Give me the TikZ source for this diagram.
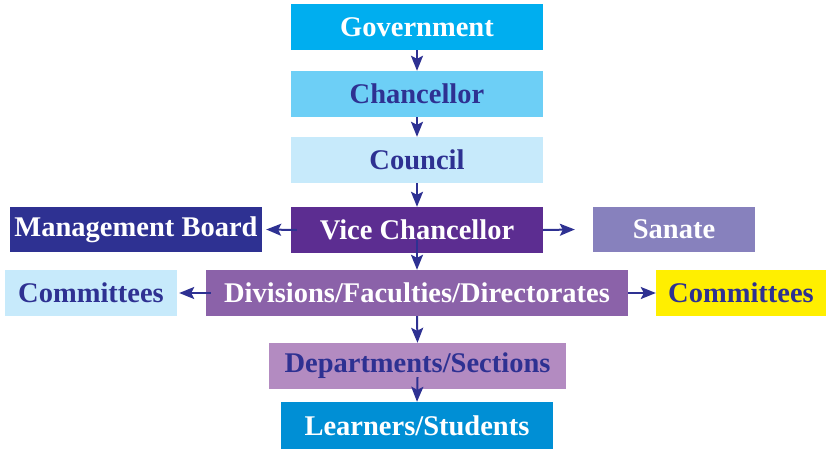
\documentclass[tikz,border=0pt]{standalone}
\usepackage{fontspec}
\setmainfont{Liberation Serif}
\usetikzlibrary{arrows.meta}
\definecolor{cGov}{HTML}{00AEEF}
\definecolor{cChan}{HTML}{6DCFF6}
\definecolor{cCoun}{HTML}{C7EAFB}
\definecolor{cVC}{HTML}{5C2D91}
\definecolor{cMB}{HTML}{2E3192}
\definecolor{cSan}{HTML}{8781BD}
\definecolor{cDiv}{HTML}{8B62A9}
\definecolor{cYel}{HTML}{FFEF00}
\definecolor{cDep}{HTML}{B38BC1}
\definecolor{cLrn}{HTML}{008FD5}
\definecolor{cTxt}{HTML}{2E3192}
\begin{document}
\begin{tikzpicture}[x=1pt,y=-1pt,
  box/.style={rectangle,inner sep=0pt,minimum height=46pt,
    font=\fontsize{28.5}{30}\selectfont\bfseries},
  wt/.style={text=white},
  dt/.style={text=cTxt},
  arr/.style={draw=cTxt,line width=2pt,-{Stealth[length=15pt,width=12pt,inset=3pt]}}]
\useasboundingbox (0,0) rectangle (826,449);
\node[box,wt,fill=cGov,minimum width=252pt] (gov) at (417,27) {Government};
\node[box,dt,fill=cChan,minimum width=252pt] (chan) at (417,94) {Chancellor};
\node[box,dt,fill=cCoun,minimum width=252pt] (coun) at (417,160) {Council};
\node[box,wt,fill=cVC,minimum width=252pt] (vc) at (417,230) {Vice Chancellor};
\node[box,wt,fill=cMB,minimum width=252pt,minimum height=45pt] (mb) at (136,229.5) {Management Board};
\node[box,wt,fill=cSan,minimum width=162pt,minimum height=45pt] (san) at (674,229.5) {Sanate};
\node[box,wt,fill=cDiv,minimum width=422pt] (div) at (417,293) {Divisions/Faculties/Directorates};
\node[box,dt,fill=cCoun,minimum width=172pt] (coml) at (91,293) {Committees};
\node[box,dt,fill=cYel,minimum width=170pt] (comr) at (741,293) {Committees};
\node[box,dt,fill=cDep,minimum width=297pt] (dep) at (417.5,366) {Departments/Sections};
\node[box,wt,fill=cLrn,minimum width=272pt,minimum height=47pt] (lrn) at (417,425.5) {Learners/Students};
\draw[arr] (gov.south) -- (chan.north);
\draw[arr] (chan.south) -- (coun.north);
\draw[arr] (coun.south) -- (vc.north);
\draw[arr] ([yshift=13pt]vc.south) -- (div.north);
\draw[arr] (div.south) -- (dep.north);
\draw[arr] ([yshift=12pt]dep.south) -- (lrn.north);
\draw[arr] ([xshift=6pt]vc.west) -- ([xshift=4pt]mb.east);
\draw[arr] (vc.east) -- ([xshift=-18pt]san.west);
\draw[arr] ([xshift=5pt]div.west) -- ([xshift=2pt]coml.east);
\draw[arr] (div.east) -- (comr.west);
\end{tikzpicture}
\end{document}
